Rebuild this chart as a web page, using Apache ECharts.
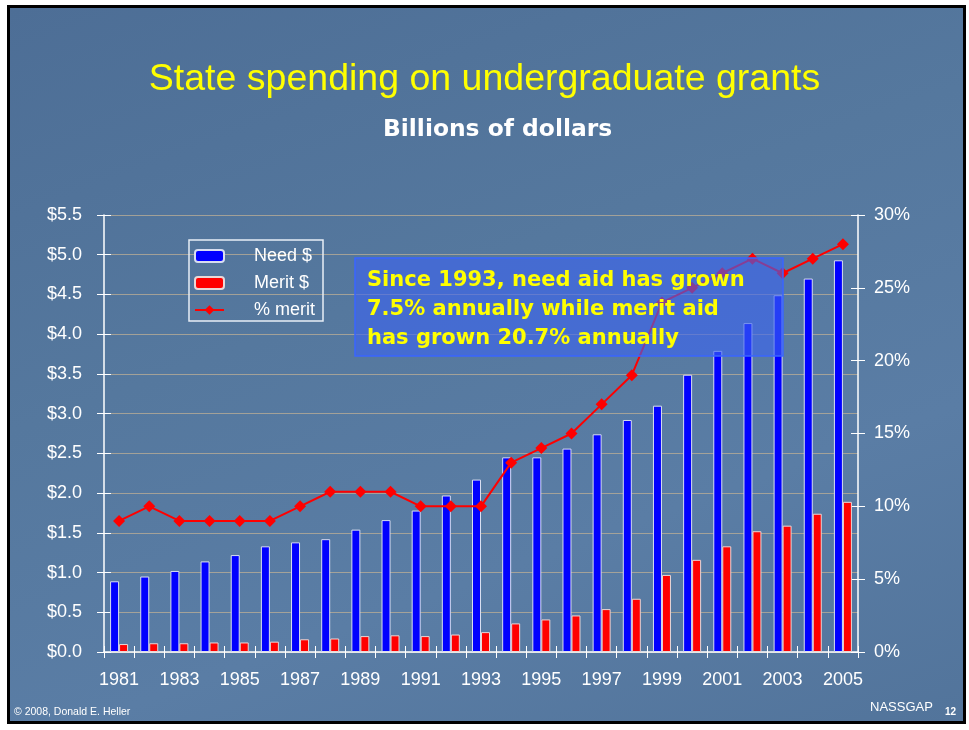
<!DOCTYPE html>
<html>
<head>
<meta charset="utf-8">
<script src="https://cdn.jsdelivr.net/npm/echarts@6/dist/echarts.min.js"></script>
<style>
html,body{margin:0;padding:0;background:#ffffff;}
#frame{position:absolute;left:7px;top:5px;width:953px;height:713px;border:3px solid #000;
background:linear-gradient(160deg,#4d6e96 0%,#55789e 40%,#5a7da5 70%,#52749b 100%);}
#chart{position:absolute;left:0;top:0;width:969px;height:730px;}
</style>
</head>
<body>
<div id="frame"></div>
<div id="chart"></div>
<script>
const years = ['1981','1982','1983','1984','1985','1986','1987','1988','1989','1990','1991','1992','1993','1994','1995','1996','1997','1998','1999','2000','2001','2002','2003','2004','2005'];
const needDollars = [0.89,0.95,1.02,1.14,1.22,1.33,1.38,1.42,1.54,1.66,1.78,1.97,2.17,2.45,2.45,2.56,2.74,2.92,3.10,3.49,3.79,4.14,4.49,4.70,4.93];
const meritDollars = [0.10,0.11,0.11,0.12,0.12,0.13,0.16,0.17,0.20,0.21,0.20,0.22,0.25,0.36,0.41,0.46,0.54,0.67,0.97,1.16,1.33,1.52,1.59,1.74,1.89];
const pctMerit = [9,10,9,9,9,9,10,11,11,11,10,10,10,13,14,15,17,19,24,25,26,27,26,27,28];
const titleText = 'State spending on undergraduate grants';
const subtitleText = 'Billions of dollars';
const noteLines = ['Since 1993, need aid has grown','7.5% annually while merit aid','has grown 20.7% annually'];

const chart = echarts.init(document.getElementById('chart'), null, {renderer:'canvas'});
const white = '#ffffff';
const sans = 'Liberation Sans, Arial, sans-serif';
const lbl = {color: white, fontFamily: sans, fontSize: 18};
const option = {
  backgroundColor: 'transparent',
  animation: false,
  title: [
    {text: titleText, left: 'center', top: 56, textStyle: {color: '#ffff00', fontFamily: sans, fontWeight: 'normal', fontSize: 37.5}},
    {text: subtitleText, left: 378, top: 113, textStyle: {color: white, fontFamily: 'DejaVu Sans, Verdana, sans-serif', fontWeight: 'bold', fontSize: 23.4}}
  ],
  legend: {
    orient: 'vertical', left: 189, top: 240,
    padding: [7, 8, 2, 5], itemGap: 9, itemWidth: 29, itemHeight: 12,
    borderColor: '#e8eef6', borderWidth: 1.5,
    textStyle: {color: white, fontFamily: sans, fontSize: 18, lineHeight: 18, padding: [0, 0, 0, 25]},
    data: ['Need $', 'Merit $', '% merit']
  },
  grid: {left: 104, right: 111, top: 215, bottom: 78, containLabel: false},
  xAxis: [
    {type: 'category', data: years, position: 'bottom', boundaryGap: true,
     axisLine: {lineStyle: {color: white, width: 1.5}},
     axisTick: {show: true, interval: 0, length: 6, lineStyle: {color: white}},
     axisLabel: Object.assign({interval: 1, margin: 19}, lbl)},
    {type: 'category', data: years, position: 'bottom', boundaryGap: true,
     axisLine: {show: false}, axisLabel: {show: false},
     axisTick: {show: true, inside: true, interval: 0, length: 6, lineStyle: {color: white}}}
  ],
  yAxis: [
    {type: 'value', position: 'left', min: 0, max: 5.5, interval: 0.5,
     axisLine: {show: true, lineStyle: {color: white, width: 1.5}},
     axisTick: {show: true, length: 7, lineStyle: {color: white}},
     axisLabel: Object.assign({margin: 22, formatter: v => '$' + v.toFixed(1)}, lbl),
     splitLine: {show: true, lineStyle: {color: 'rgba(190,175,150,0.75)', width: 1}}},
    {type: 'value', position: 'right', min: 0, max: 30, interval: 5,
     axisLine: {show: true, lineStyle: {color: white, width: 1.5}},
     axisTick: {show: true, length: 7, lineStyle: {color: white}},
     axisLabel: Object.assign({margin: 16, formatter: v => v + '%'}, lbl),
     splitLine: {show: false}},
    {type: 'value', position: 'left', min: 0, max: 5.5, interval: 0.5,
     axisLine: {show: false}, axisLabel: {show: false}, splitLine: {show: false},
     axisTick: {show: true, inside: true, length: 7, lineStyle: {color: white}}},
    {type: 'value', position: 'right', min: 0, max: 30, interval: 5,
     axisLine: {show: false}, axisLabel: {show: false}, splitLine: {show: false},
     axisTick: {show: true, inside: true, length: 7, lineStyle: {color: white}}}
  ],
  series: [
    {name: 'Need $', type: 'bar', xAxisIndex: 0, yAxisIndex: 0, data: needDollars,
     barWidth: 9, barGap: '0%',
     itemStyle: {color: '#0000ff', borderColor: '#d8def0', borderWidth: 1}},
    {name: 'Merit $', type: 'bar', xAxisIndex: 0, yAxisIndex: 0, data: meritDollars,
     barWidth: 9, barGap: '0%',
     itemStyle: {color: '#ff0000', borderColor: '#e8d8d8', borderWidth: 1}},
    {name: '% merit', type: 'line', xAxisIndex: 0, yAxisIndex: 1, data: pctMerit,
     symbol: 'diamond', symbolSize: 12, z: 5,
     lineStyle: {color: '#ff0000', width: 2},
     itemStyle: {color: '#ff0000'}}
  ],
  graphic: [
    {type: 'rect', z: 100, shape: {x: 355, y: 258, width: 428, height: 98},
     style: {fill: 'rgba(60,100,240,0.62)', stroke: '#3a66ff', lineWidth: 1.5}},
    {type: 'text', z: 101, left: 367, top: 266,
     style: {text: noteLines.join('\n'), fill: '#ffff00', fontFamily: 'DejaVu Sans, Verdana, sans-serif', fontWeight: 'bold', fontSize: 21, lineHeight: 29}},
    {type: 'text', z: 101, left: 14, top: 707,
     style: {text: '© 2008, Donald E. Heller', fill: white, fontFamily: sans, fontSize: 10.5}},
    {type: 'text', z: 101, left: 870, top: 701,
     style: {text: 'NASSGAP', fill: white, fontFamily: sans, fontSize: 13}},
    {type: 'text', z: 101, left: 945, top: 707,
     style: {text: '12', fill: white, fontFamily: sans, fontWeight: 'bold', fontSize: 10}}
  ]
};
chart.setOption(option);
</script>
</body>
</html>
